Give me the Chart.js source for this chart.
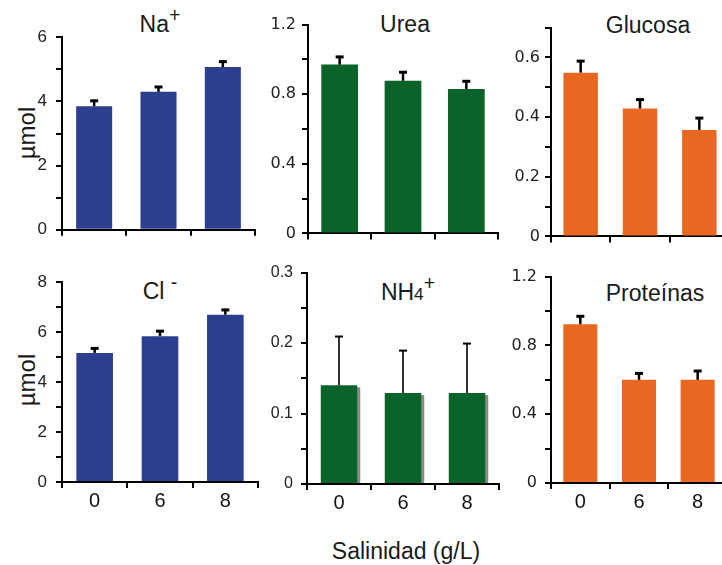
<!DOCTYPE html>
<html><head><meta charset="utf-8">
<script src="https://cdn.jsdelivr.net/npm/chart.js@4/dist/chart.umd.min.js"></script>
<style>
html,body{margin:0;padding:0;width:722px;height:565px;overflow:hidden;background:#fff;}
canvas{position:absolute;}
.t{position:absolute;font-family:"Liberation Sans",Arial,sans-serif;color:#1a1a1a;white-space:nowrap;line-height:1;transform:translate(-50%,-50%);font-size:23px;}
.t sup{font-size:0.85em;vertical-align:0.5em;line-height:0;}
.t sub{font-size:0.75em;vertical-align:-0.05em;line-height:0;}
.rot{transform:translate(-50%,-50%) rotate(-90deg);}
</style></head>
<body>
<div class="t" style="left:160px;top:24px;">Na<sup>+</sup></div>
<div class="t" style="left:405px;top:24px;">Urea</div>
<div class="t" style="left:648px;top:25px;">Glucosa</div>
<div class="t" style="left:160px;top:291px;">Cl <sup>-</sup></div>
<div class="t" style="left:408px;top:292px;">NH<sub>4</sub><sup>+</sup></div>
<div class="t" style="left:655px;top:293px;">Proteínas</div>
<div class="t rot" style="left:27px;top:133px;font-size:24px;">µmol</div>
<div class="t rot" style="left:27px;top:380px;font-size:24px;">µmol</div>
<div class="t" style="left:406px;top:551px;">Salinidad (g/L)</div>
<canvas id="c1"></canvas><canvas id="c2"></canvas><canvas id="c3"></canvas>
<canvas id="c4"></canvas><canvas id="c5"></canvas><canvas id="c6"></canvas>
<script>
// ---- data ----
const categories = ['0', '6', '8'];
const naValues = [3.85, 4.30, 5.07];
const naErrors = [0.20, 0.18, 0.20];
const ureaValues = [0.97, 0.877, 0.83];
const ureaErrors = [0.05, 0.055, 0.05];
const glucosaValues = [0.549, 0.429, 0.357];
const glucosaErrors = [0.042, 0.033, 0.043];
const clValues = [5.17, 5.84, 6.70];
const clErrors = [0.22, 0.24, 0.23];
const nh4Values = [0.14, 0.129, 0.129];
const nh4Errors = [0.07, 0.061, 0.071];
const proteinValues = [0.923, 0.60, 0.60];
const proteinErrors = [0.052, 0.043, 0.057];

// ---- styles ----
const BLUE = '#2c3f8f', GREEN = '#0a6429', ORANGE = '#e86822';
const ARIAL = '"Liberation Sans", Arial, sans-serif';
const DEJAVU = '"DejaVu Sans", Verdana, sans-serif';

const errorBars = {
  id: 'errorBars',
  beforeDatasetsDraw(chart, args, opts) {
    if (!opts.shadow) return;
    const ctx = chart.ctx;
    ctx.save();
    ctx.fillStyle = '#8a8a8a';
    chart.getDatasetMeta(0).data.forEach(bar => {
      const p = bar.getProps(['x', 'y', 'base', 'width'], true);
      ctx.fillRect(p.x - p.width / 2 + 3, p.y + 2, p.width, p.base - p.y - 2);
    });
    ctx.restore();
  },
  afterDatasetsDraw(chart, args, opts) {
    const errs = opts.errors;
    if (!errs) return;
    const ys = chart.scales.y;
    const ctx = chart.ctx;
    const vals = chart.data.datasets[0].data;
    ctx.save();
    ctx.strokeStyle = '#000';
    ctx.lineCap = 'butt';
    chart.getDatasetMeta(0).data.forEach((bar, i) => {
      const yb = ys.getPixelForValue(vals[i]);
      const yt = ys.getPixelForValue(vals[i] + errs[i]);
      ctx.lineWidth = opts.width;
      ctx.beginPath();
      ctx.moveTo(bar.x, yb); ctx.lineTo(bar.x, yt);
      ctx.stroke();
      ctx.lineWidth = opts.capWidth;
      ctx.beginPath();
      ctx.moveTo(bar.x - opts.cap, yt + opts.capWidth / 2 - 0.5); ctx.lineTo(bar.x + opts.cap, yt + opts.capWidth / 2 - 0.5);
      ctx.stroke();
    });
    ctx.restore();
  }
};

const panels = [
  {id: 'c1', values: naValues, errors: naErrors, color: BLUE, max: 6, minor: 1, ratio: 2, font: ARIAL, fsize: 17, pad: 9,
   geom: {x: 62, right: 255, top: 32, zero: 237}, labels: false, ew: 2.5, cw: 3, bp: 0.56},
  {id: 'c2', values: ureaValues, errors: ureaErrors, color: GREEN, max: 1.2, minor: 0.2, ratio: 2, font: DEJAVU, fsize: 16, pad: 6,
   geom: {x: 308, right: 498, top: 23, zero: 237}, labels: false, ew: 2.5, cw: 3, bp: 0.58},
  {id: 'c3', values: glucosaValues, errors: glucosaErrors, color: ORANGE, max: 0.7, minor: 0.1, ratio: 2, font: DEJAVU, fsize: 16, pad: 5,
   geom: {x: 551, right: 729, top: 27, zero: 239}, labels: false, ew: 2.5, cw: 3, bp: 0.58},
  {id: 'c4', values: clValues, errors: clErrors, color: BLUE, max: 8, minor: 1, ratio: 2, font: ARIAL, fsize: 17, pad: 9,
   geom: {x: 62, right: 258, top: 277, zero: 482}, labels: true, ew: 2.5, cw: 3, bp: 0.56},
  {id: 'c5', values: nh4Values, errors: nh4Errors, color: GREEN, max: 0.3, minor: 0.05, ratio: 2, font: ARIAL, fsize: 16, pad: 8,
   geom: {x: 307, right: 499, top: 269, zero: 484}, labels: true, ew: 1.6, cw: 2, bp: 0.57, shadow: true},
  {id: 'c6', values: proteinValues, errors: proteinErrors, color: ORANGE, max: 1.2, minor: 0.2, ratio: 2, font: DEJAVU, fsize: 16, pad: 8,
   geom: {x: 551, right: 727, top: 273, zero: 483}, labels: true, ew: 2.5, cw: 3, bp: 0.58}
];

const YW = 50, PT = 14, PR = 3;
panels.forEach(p => {
  const HX = p.labels ? 40 : 12;
  const cv = document.getElementById(p.id);
  const left = p.geom.x - YW, top = p.geom.top - PT;
  const w = p.geom.right - left + PR, h = p.geom.zero - top + HX;
  cv.width = w; cv.height = h;
  cv.style.left = left + 'px'; cv.style.top = top + 'px';
  cv.style.width = w + 'px'; cv.style.height = h + 'px';
  new Chart(cv, {
    type: 'bar',
    data: {labels: categories, datasets: [{data: p.values, backgroundColor: p.color, borderWidth: 0,
      barPercentage: p.bp, categoryPercentage: 1}]},
    plugins: [errorBars],
    options: {
      responsive: false, animation: false, devicePixelRatio: 1,
      layout: {padding: {top: PT, right: PR, left: 0, bottom: 0}},
      plugins: {legend: {display: false}, tooltip: {enabled: false},
        errorBars: {errors: p.errors, width: p.ew, capWidth: p.cw, cap: 4, shadow: !!p.shadow}},
      scales: {
        x: {
          type: 'category', offset: true,
          grid: {offset: true, drawOnChartArea: false, drawTicks: true, tickLength: 6, tickWidth: 2, lineWidth: 2, tickColor: '#000'},
          border: {display: true, color: '#000', width: 2},
          ticks: {display: p.labels, color: '#111', padding: 1, font: {family: ARIAL, size: 20}},
          afterFit: s => { s.height = HX; }
        },
        y: {
          min: 0, max: p.max,
          grid: {drawOnChartArea: false, drawTicks: true, tickLength: 6, tickWidth: 2, lineWidth: 2, tickColor: '#000'},
          border: {display: true, color: '#000', width: 2},
          ticks: {stepSize: p.minor, autoSkip: false, padding: p.pad, color: '#222', font: {family: p.font, size: p.fsize},
            callback: v => { const k = Math.round(v / p.minor); return k % p.ratio === 0 ? String(+v.toFixed(2)) : ''; }},
          afterFit: s => { s.width = YW; }
        }
      }
    }
  });
});
</script>
</body></html>
